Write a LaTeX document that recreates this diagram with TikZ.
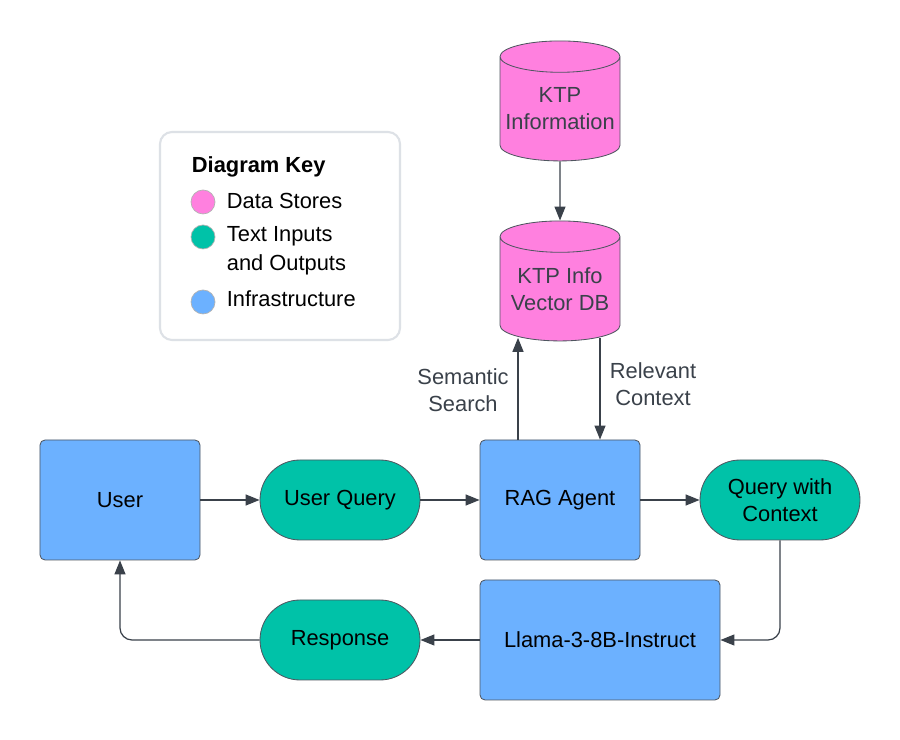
\documentclass[tikz,border=0pt]{standalone}
\usepackage{fontspec}
\setmainfont{Liberation Sans}
\usetikzlibrary{arrows.meta}
\usetikzlibrary{shapes.geometric}

\definecolor{storepink}{HTML}{FF80DF}
\definecolor{textteal}{HTML}{00C2A8}
\definecolor{infrablue}{HTML}{6CB1FF}
\definecolor{linegray}{HTML}{3A414A}
\definecolor{edgegray}{HTML}{4F5660}
\definecolor{keygray}{HTML}{DDE1E6}

\tikzset{
  infra/.style={
    rectangle,
    rounded corners=0.05in,
    draw=edgegray,
    fill=infrablue,
    line width=0.6pt,
    minimum height=1.2in,
    align=center,
  },
  textio/.style={
    rectangle,
    rounded corners=0.4in,
    draw=edgegray,
    fill=textteal,
    line width=0.6pt,
    minimum width=1.6in,
    minimum height=0.8in,
    align=center,
  },
  store/.style={
    cylinder,
    shape border rotate=90,
    aspect=3.4,
    draw=edgegray,
    fill=storepink,
    line width=0.6pt,
    minimum width=1.2in,
    minimum height=1.2in,
  },
  storetext/.style={
    text=linegray,
    align=center,
    yshift=0.03in,
  },
  flow/.style={
    draw=linegray,
    line width=0.9pt,
    -{Triangle[length=0.14in,width=0.11in]},
  },
  flowlabel/.style={
    text=linegray,
    align=center,
  },
  keydot/.style={
    circle,
    draw=black!30,
    line width=0.5pt,
    inner sep=0pt,
    minimum size=0.24in,
  },
  keytext/.style={
    anchor=west,
    align=left,
  },
}

\begin{document}
\begin{tikzpicture}[font=\fontsize{15.8}{19.4}\selectfont]
  \useasboundingbox[fill=white] (0, 0) rectangle (9in, 7.4in);

  % Key
  \node[
    rectangle,
    rounded corners=0.12in,
    draw=keygray,
    fill=white,
    line width=1.5pt,
    minimum width=2.4in,
    minimum height=2.08in,
  ] (key) at (2.8in, 5.04in) {};
  \node[keytext, font=\fontsize{15.8}{19.4}\selectfont\bfseries] (keytitle) at (1.87in, 5.73in) {Diagram Key};
  \node[keydot, fill=storepink] (dotstore) at (2.03in, 5.38in) {};
  \node[keydot, fill=textteal] (dotio) at (2.03in, 5.03in) {};
  \node[keydot, fill=infrablue] (dotinfra) at (2.03in, 4.38in) {};
  \node[keytext] (keystore) at (2.22in, 5.39in) {Data Stores};
  \node[keytext, font=\fontsize{15.8}{20.8}\selectfont] (keyio) at (2.22in, 4.895in) {Text Inputs\\and Outputs};
  \node[keytext] (keyinfra) at (2.22in, 4.41in) {Infrastructure};

  % Data stores
  \node[store, label={[storetext]center:KTP\\Information}] (ktp) at (5.6in, 6.28in) {};
  \node[store, label={[storetext]center:KTP Info\\Vector DB}] (vdb) at (5.6in, 4.48in) {};

  % Main flow
  \node[infra, minimum width=1.6in] (user) at (1.2in, 2.4in) {User};
  \node[textio] (query) at (3.4in, 2.4in) {User Query};
  \node[infra, minimum width=1.6in] (rag) at (5.6in, 2.4in) {RAG Agent};
  \node[textio] (ctxquery) at (7.8in, 2.4in) {Query with\\Context};
  \node[infra, minimum width=2.4in] (llama) at (6.0in, 1.0in) {Llama-3-8B-Instruct};
  \node[textio] (response) at (3.4in, 1.0in) {Response};

  \draw[flow] (ktp.south) -- (vdb.north);
  \draw[flow] ([xshift=-0.42in]rag.north) -- ([xshift=-0.42in, yshift=0.035in]vdb.south);
  \draw[flow] ([xshift=0.4in, yshift=0.03in]vdb.south) -- ([xshift=0.4in]rag.north);
  \node[flowlabel] (searchlabel) at (4.63in, 3.5in) {Semantic\\Search};
  \node[flowlabel] (contextlabel) at (6.53in, 3.56in) {Relevant\\Context};

  \draw[flow] (user) -- (query);
  \draw[flow] (query) -- (rag);
  \draw[flow] (rag) -- (ctxquery);
  \draw[flow, rounded corners=0.12in] (ctxquery.south) |- (llama.east);
  \draw[flow] (llama) -- (response);
  \draw[flow, rounded corners=0.12in] (response.west) -| (user.south);
\end{tikzpicture}
\end{document}
